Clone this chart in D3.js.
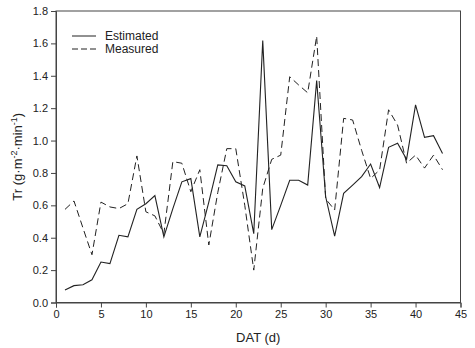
<!DOCTYPE html>
<html>
<head>
<meta charset="utf-8">
<script src="https://cdn.jsdelivr.net/npm/d3@7"></script>
<style>
  html, body { margin: 0; padding: 0; background: #fff; }
  svg { display: block; font-family: "Liberation Sans", Arial, sans-serif; }
</style>
</head>
<body>
<svg id="chart" width="475" height="348"></svg>
<script>
// Days after transplanting
const days = d3.range(1, 44);

// Transpiration rate, g·m⁻²·min⁻¹
const estimated = [0.077, 0.104, 0.11, 0.14, 0.25, 0.24, 0.415, 0.405, 0.575, 0.61,
  0.66, 0.405, 0.58, 0.745, 0.765, 0.405, 0.62, 0.85, 0.845, 0.745,
  0.72, 0.425, 1.617, 0.45, 0.6, 0.755, 0.755, 0.725, 1.37, 0.653,
  0.41, 0.674, 0.725, 0.777, 0.855, 0.71, 0.958, 0.983, 0.884, 1.22,
  1.02, 1.03, 0.92];

const measured = [0.575, 0.627, 0.46, 0.295, 0.62, 0.59, 0.58, 0.61, 0.905, 0.56,
  0.535, 0.425, 0.87, 0.86, 0.684, 0.82, 0.355, 0.68, 0.95, 0.95,
  0.6, 0.2, 0.705, 0.884, 0.91, 1.394, 1.343, 1.295, 1.645, 0.64,
  0.571, 1.137, 1.127, 0.94, 0.766, 0.818, 1.19, 1.096, 0.86, 0.91,
  0.83, 0.91, 0.82];

const xTicks = [0, 5, 10, 15, 20, 25, 30, 35, 40, 45];
const yTicks = [0.0, 0.2, 0.4, 0.6, 0.8, 1.0, 1.2, 1.4, 1.6, 1.8];

const svg = d3.select("#chart");
const plotL = 56, plotR = 460.5, plotT = 11, plotB = 302.5;

const x = d3.scaleLinear().domain([0, 45]).range([plotL, plotR]);
const y = d3.scaleLinear().domain([0, 1.8]).range([plotB, plotT]);

const axisColor = "#444";

// Frame
svg.append("rect")
  .attr("x", plotL).attr("y", plotT)
  .attr("width", plotR - plotL).attr("height", plotB - plotT)
  .attr("fill", "none").attr("stroke", axisColor).attr("stroke-width", 1);

const xAxis = svg.append("g")
  .attr("transform", `translate(0,${plotB})`)
  .call(d3.axisBottom(x).tickValues(xTicks).tickFormat(d3.format("d")).tickSize(5).tickPadding(3));

const yAxis = svg.append("g")
  .attr("transform", `translate(${plotL},0)`)
  .call(d3.axisLeft(y).tickValues(yTicks).tickFormat(d3.format(".1f")).tickSize(5).tickPadding(3));

[xAxis, yAxis].forEach(g => {
  g.select(".domain").attr("stroke", axisColor);
  g.selectAll(".tick line").attr("stroke", axisColor);
  g.selectAll(".tick text").attr("fill", "#222").style("font-size", "11px")
    .style("font-family", "'Liberation Sans', Arial, sans-serif");
});

// Axis titles
svg.append("text")
  .attr("x", (plotL + plotR) / 2).attr("y", 342)
  .attr("text-anchor", "middle")
  .attr("fill", "#222").style("font-size", "13px")
  .text("DAT (d)");

const yt = svg.append("text")
  .attr("transform", `translate(22,${(plotT + plotB) / 2}) rotate(-90)`)
  .attr("text-anchor", "middle")
  .attr("fill", "#222").style("font-size", "13px");
yt.append("tspan").text("Tr (g·m");
yt.append("tspan").attr("dy", -5).style("font-size", "9px").text("-2");
yt.append("tspan").attr("dy", 5).text("·min");
yt.append("tspan").attr("dy", -5).style("font-size", "9px").text("-1");
yt.append("tspan").attr("dy", 5).text(")");

// Series lines
const line = d3.line()
  .x((d, i) => x(days[i]))
  .y(d => y(d));

svg.append("path")
  .datum(measured)
  .attr("d", line)
  .attr("fill", "none")
  .attr("stroke", "#222")
  .attr("stroke-width", 1)
  .attr("stroke-dasharray", "7,4");

svg.append("path")
  .datum(estimated)
  .attr("d", line)
  .attr("fill", "none")
  .attr("stroke", "#222")
  .attr("stroke-width", 1.1);

// Legend
const legend = svg.append("g");
const items = [
  { name: "Estimated", dash: null, y: 36 },
  { name: "Measured", dash: "6,3", y: 49 }
];
items.forEach(it => {
  legend.append("line")
    .attr("x1", 72).attr("x2", 96)
    .attr("y1", it.y).attr("y2", it.y)
    .attr("stroke", "#222").attr("stroke-width", 1)
    .attr("stroke-dasharray", it.dash);
  legend.append("text")
    .attr("x", 105).attr("y", it.y + 4)
    .attr("fill", "#222").style("font-size", "12px")
    .text(it.name);
});
</script>
</body>
</html>
